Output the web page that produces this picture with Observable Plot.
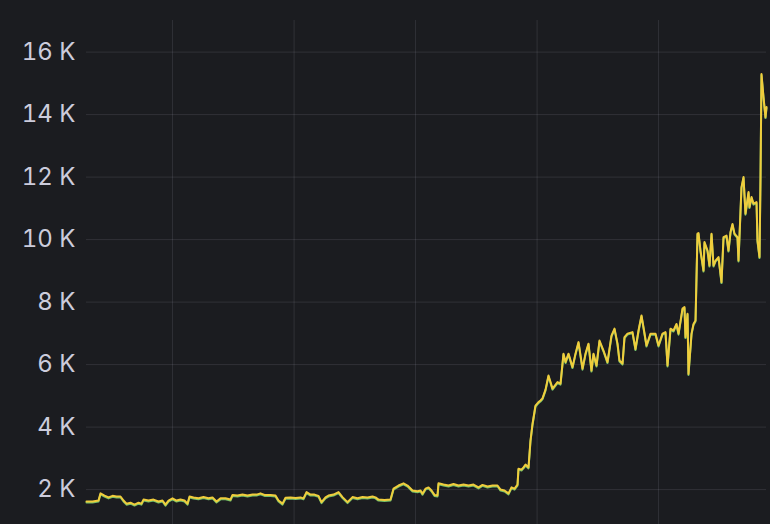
<!DOCTYPE html>
<html><head><meta charset="utf-8">
<script src="https://cdn.jsdelivr.net/npm/d3@7"></script>
<script src="https://cdn.jsdelivr.net/npm/@observablehq/plot@0.6"></script>
<style>html,body{margin:0;padding:0;background:#1b1c20;overflow:hidden}</style>
</head><body><div id="chart"></div>
<script>
const hours = [0,1.19,2.37,2.77,3.56,4.35,5.14,5.93,6.72,7.31,7.9,8.69,9.48,10.27,10.86,11.26,12.25,13.23,14.22,15.01,15.6,16.2,16.99,17.78,18.57,19.36,19.95,20.35,21.14,22.12,23.11,24.1,24.89,25.68,26.47,27.46,28.44,28.84,29.83,30.81,31.8,32.79,33.58,34.37,35.16,36.35,37.33,37.93,38.72,39.31,40.3,41.28,42.27,42.86,43.46,44.25,45.04,45.83,46.42,47.21,47.8,48.79,49.78,50.57,51.56,52.54,53.53,54.52,55.51,56.49,57.09,57.68,58.86,60.05,60.64,61.63,62.62,63.41,64.4,65.38,65.98,66.37,66.96,67.56,68.15,68.74,69.33,69.53,70.52,71.51,72.49,73.48,74.47,75.46,76.44,77.43,78.22,79.21,80.2,81.19,81.78,82.57,83.36,83.95,84.54,85.14,85.33,85.93,86.32,86.72,87.31,87.7,88.1,88.69,89.28,89.68,90.07,90.67,91.26,92.05,93.04,93.63,94.22,94.62,95.21,96,96.59,97.19,97.98,98.57,99.16,99.75,100.15,100.74,101.33,102.12,102.91,103.7,104.3,104.89,105.28,105.88,106.27,106.86,107.85,108.44,109.04,109.63,110.02,110.62,111.41,112.4,112.99,113.78,114.37,114.77,115.36,115.95,116.54,116.94,117.73,118.12,118.32,118.72,118.91,119.51,119.9,120.3,120.69,120.89,121.28,121.88,122.07,122.67,123.06,123.46,123.85,124.25,124.84,125.43,125.83,126.42,126.81,127.21,127.6,128,128.59,128.79,129.19,129.38,129.78,130.17,130.77,130.96,131.36,131.75,132.35,132.54,132.94,133.14,133.33,133.73,134.12,134.32];
const values = [1620,1620,1650,1880,1810,1750,1800,1780,1780,1650,
1550,1580,1520,1580,1550,1680,1650,1680,1620,1650,
1520,1650,1720,1650,1680,1650,1550,1780,1750,1720,
1760,1720,1750,1620,1720,1720,1680,1830,1810,1840,
1810,1840,1840,1880,1830,1830,1810,1650,1550,1740,
1750,1730,1750,1720,1920,1840,1840,1800,1600,1750,
1810,1840,1920,1760,1600,1760,1720,1760,1750,1780,
1750,1680,1670,1680,2030,2130,2200,2130,1970,1950,
1970,1870,2030,2070,1970,1830,1810,2200,2160,2130,
2180,2130,2160,2130,2160,2070,2150,2100,2130,2130,
2000,1970,1880,2070,2030,2160,2670,2640,2710,2800,
2710,3570,4100,4690,4800,4850,4920,5200,5650,5230,
5440,5390,6350,6080,6350,5920,6350,6720,5870,6350,
6670,5810,6350,5970,6770,6450,6080,6930,7150,6670,
6130,6030,6880,6990,7040,6500,7090,7570,7200,6610,
6990,6990,6610,6990,7040,5970,7150,7090,7300,6990,
7790,7840,6880,7630,5700,6990,7300,7410,10190,10210,
9650,9010,9920,9650,9170,10190,9170,9330,9440,8640,
10080,10130,9650,10240,10500,10190,10080,9330,10930,11680,
12000,10830,11520,11040,11360,11150,11200,9970,9440,12000,
15300,14560,13920,14240];
const yTicks = [2000,4000,6000,8000,10000,12000,14000,16000];
const dayOffsets = [1,2,3,4,5];

const start = Date.UTC(2024,2,4,7);
const data = hours.map((h,i)=>({t:new Date(start+h*3600e3), v:values[i]}));
const dayTicks = dayOffsets.map(d=>new Date(Date.UTC(2024,2,4+d)));

const chart = Plot.plot({
  width:770, height:524,
  marginLeft:86, marginRight:4, marginTop:20, marginBottom:0,
  style:{background:"#1b1c20", color:"#ccccdc", fontFamily:"Inter, sans-serif", fontSize:"24px"},
  x:{type:"utc", domain:[new Date(start), new Date(start+134.32*3600e3)], axis:null},
  y:{domain:[883,17011]},
  marks:[
    Plot.gridX(dayTicks,{stroke:"#ccccdc", strokeOpacity:0.12}),
    Plot.gridY(yTicks,{stroke:"#ccccdc", strokeOpacity:0.12}),
    Plot.axisY(yTicks,{tickSize:0, tickPadding:11, tickFormat:d=>`${d/1000} K`, fill:"#ccccdc", fontSize:24, label:null}),
    Plot.line(data,{x:"t", y:"v", stroke:"#73bf69", strokeWidth:2, dy:1}),
    Plot.line(data,{x:"t", y:"v", stroke:"#f0cd3c", strokeWidth:2})
  ]
});
document.getElementById("chart").appendChild(chart);
</script></body></html>
